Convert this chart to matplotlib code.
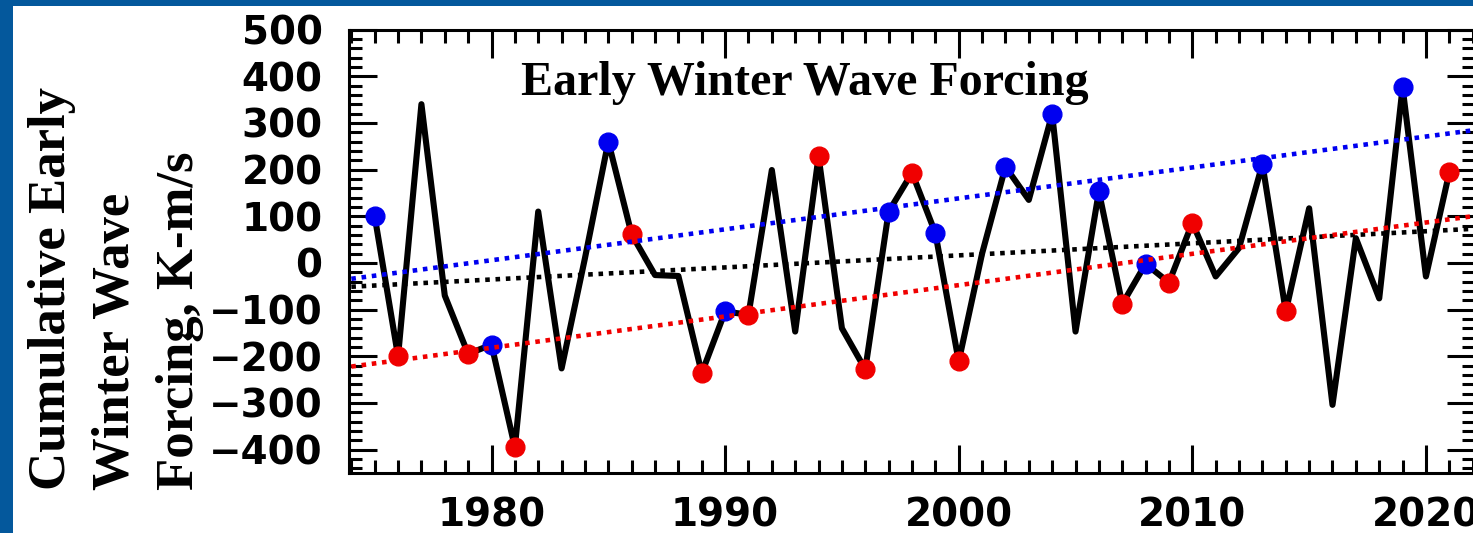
import numpy as np
import matplotlib.pyplot as plt
from matplotlib.patches import Rectangle
from matplotlib.ticker import MultipleLocator

# jahre und werte
years = np.arange(1975, 2022)
forcing = [100, -200, 340, -70, -195, -175, -395, 110, -226, 10,
           260, 61, -26, -28, -236, -104, -111, 199, -147, 228,
           -140, -228, 110, 193, 64, -211, 20, 206, 135, 319,
           -147, 153, -88, -2, -42, 86, -29, 32, 212, -104,
           117, -304, 53, -76, 376, -29, 194]

blue_years = [1975, 1980, 1985, 1990, 1997, 1999, 2002, 2004, 2006, 2008, 2013, 2019]
red_years = [1976, 1979, 1981, 1986, 1989, 1991, 1994, 1996, 1998, 2000, 2007, 2009,
             2010, 2014, 2021]

# trendlinien: werte bei 1974 und 2022
trend_x = [1974, 2022]
trend_all = [-51, 73]
trend_blue = [-34, 284]
trend_red = [-222, 100]

W, H = 1473, 533
fig = plt.figure(figsize=(W / 100, H / 100), dpi=100)
fig.patch.set_facecolor('#04589C')
fig.patches.append(Rectangle((13 / W, 0), 1, 1 - 6 / H, transform=fig.transFigure,
                             facecolor='white', edgecolor='none', zorder=-1))

ax = fig.add_axes([349 / W, 60 / H, (1475 - 349) / W, (473 - 29.5) / H])
ax.set_zorder(1)

vals = dict(zip(years, forcing))
ax.plot(years, forcing, color='black', lw=4.4, zorder=2, solid_joinstyle='round')
ax.plot(blue_years, [vals[y] for y in blue_years], 'o', color='#0000F0', ms=13.5, zorder=3)
ax.plot(red_years, [vals[y] for y in red_years], 'o', color='#F00000', ms=13.5, zorder=3)

dots = (0, (1, 1.25))
ax.plot(trend_x, trend_all, color='black', lw=3.3, ls=dots, zorder=4)
ax.plot(trend_x, trend_blue, color='#0000F0', lw=3.3, ls=dots, zorder=4)
ax.plot(trend_x, trend_red, color='#F00000', lw=3.3, ls=dots, zorder=4)

ax.set_xlim(1973.9, 2022.1)
ax.set_ylim(-450, 500)
ax.xaxis.set_major_locator(MultipleLocator(10))
ax.xaxis.set_minor_locator(MultipleLocator(1))
ax.yaxis.set_major_locator(MultipleLocator(100))
ax.yaxis.set_minor_locator(MultipleLocator(20))
ax.tick_params(which='both', direction='in', top=True, right=True, width=2.2, color='black')
ax.tick_params(which='major', length=20)
ax.tick_params(which='minor', length=9.5)
ax.tick_params(axis='y', which='major', pad=19, labelsize=28)
ax.tick_params(axis='x', which='major', pad=17, labelsize=28)
for lab in ax.get_xticklabels() + ax.get_yticklabels():
    lab.set_fontweight('bold')
    lab.set_family('DejaVu Sans')
for s in ax.spines.values():
    s.set_linewidth(2.2)

serif = 'Liberation Serif'
fig.text(521 / W, 1 - 95 / H, 'Early Winter Wave Forcing', family=serif, weight='bold',
         fontsize=34.6, ha='left', va='baseline')

ylines = ['Cumulative Early', 'Winter Wave', 'Forcing, K-m/s']
for i, t in enumerate(ylines):
    fig.text((65 + 64 * i) / W, 1 - 490 / H, t, family=serif, weight='bold', fontsize=38,
             rotation=90, rotation_mode='anchor', ha='left', va='baseline')

fig.savefig('out.png', dpi=100)
